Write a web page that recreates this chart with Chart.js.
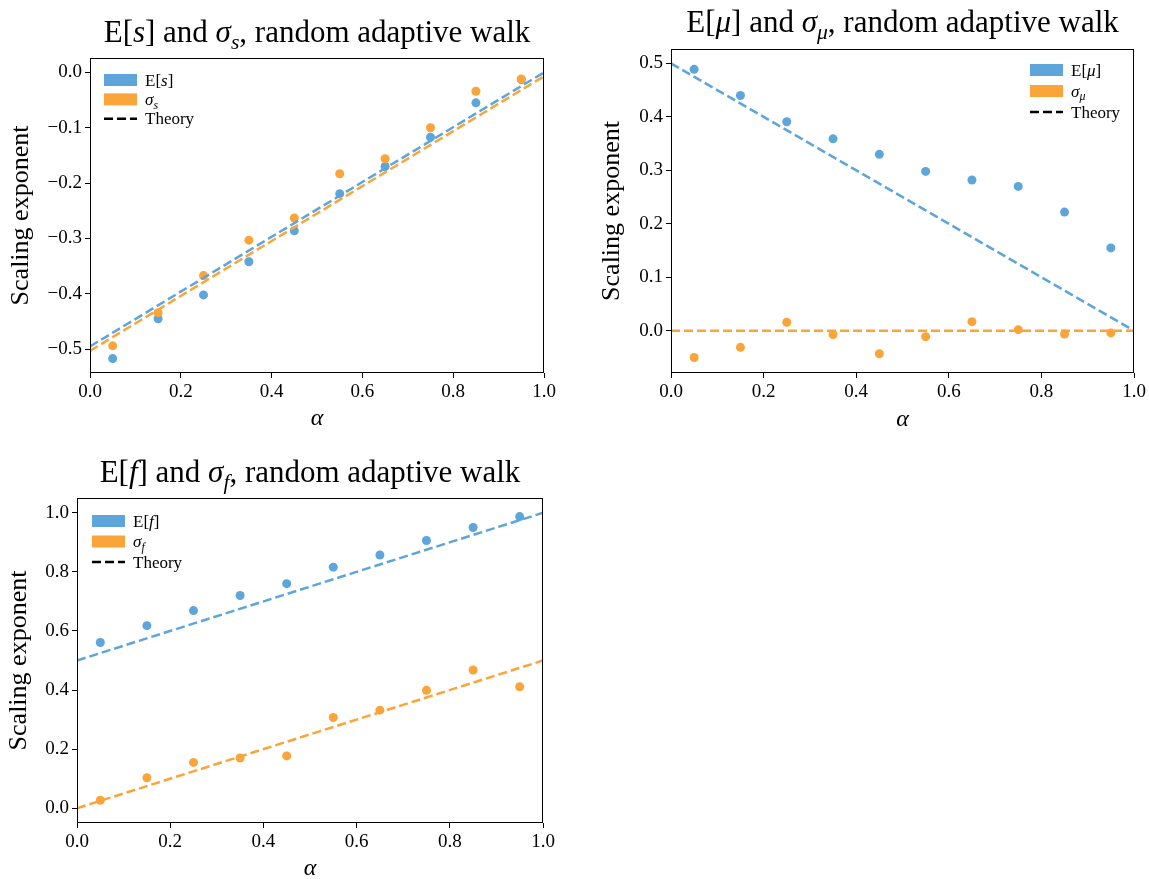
<!DOCTYPE html>
<html>
<head>
<meta charset="utf-8">
<script src="https://cdn.jsdelivr.net/npm/chart.js@4.4.1/dist/chart.umd.min.js"></script>
<style>
  body { margin: 0; background: #fff; }
  canvas { position: absolute; }
</style>
</head>
<body>
<canvas id="chartS" width="570" height="440" style="left:0px;top:0px"></canvas>
<canvas id="chartMu" width="559" height="440" style="left:590px;top:0px"></canvas>
<canvas id="chartF" width="570" height="439" style="left:0px;top:440px"></canvas>
<script>
// alpha values of the simulations, and the two ends of each theory line
const alpha = [0.05, 0.15, 0.25, 0.35, 0.45, 0.55, 0.65, 0.75, 0.85, 0.95];
const theoryAlpha = [0, 1];

// E[s] and sigma_s
const meanS = [-0.517, -0.445, -0.402, -0.342, -0.286, -0.219, -0.170, -0.117, -0.055, -0.013];
const sdS = [-0.494, -0.434, -0.367, -0.303, -0.263, -0.183, -0.156, -0.100, -0.034, -0.012];
const theoryMeanS = [-0.495, 0.0];
const theorySdS = [-0.503, -0.007];

// E[mu] and sigma_mu
const meanMu = [0.489, 0.440, 0.391, 0.359, 0.330, 0.298, 0.282, 0.270, 0.222, 0.155];
const sdMu = [-0.050, -0.031, 0.016, -0.007, -0.043, -0.011, 0.017, 0.002, -0.006, -0.004];
const theoryMeanMu = [0.5, 0.0];
const theorySdMu = [0.0, 0.0];

// E[f] and sigma_f
const meanF = [0.561, 0.618, 0.669, 0.720, 0.760, 0.816, 0.857, 0.906, 0.950, 0.987];
const sdF = [0.027, 0.103, 0.155, 0.170, 0.177, 0.307, 0.332, 0.399, 0.468, 0.411];
const theoryMeanF = [0.5, 1.0];
const theorySdF = [0.0, 0.5];

const xTicks = [0, 0.2, 0.4, 0.6, 0.8, 1.0];
const yTicksS = [-0.5, -0.4, -0.3, -0.2, -0.1, 0.0];
const yTicksMu = [0.0, 0.1, 0.2, 0.3, 0.4, 0.5];
const yTicksF = [0.0, 0.2, 0.4, 0.6, 0.8, 1.0];

const SERIF = "'Liberation Serif', 'DejaVu Serif', serif";
const BLUE = '#5DA5DA';
const ORANGE = '#FAA43A';

function fmt(v) {
  const s = Math.abs(v).toFixed(1);
  return v < -1e-9 ? '\u2212' + s : s;
}

function pts(xs, ys) {
  return xs.map((x, i) => ({x: x, y: ys[i]}));
}

// text with italic letters and subscripts
function drawRich(ctx, segs, x, y, size, align) {
  const fontOf = s => (s.it ? 'italic ' : '') + (s.sub ? size * 0.7 : size) + 'px ' + SERIF;
  let w = 0;
  segs.forEach(s => { ctx.font = fontOf(s); w += ctx.measureText(s.t).width; });
  let cx = align === 'center' ? x - w / 2 : x;
  ctx.textAlign = 'left';
  ctx.textBaseline = 'alphabetic';
  ctx.fillStyle = '#000';
  segs.forEach(s => {
    ctx.font = fontOf(s);
    ctx.fillText(s.t, cx, y + (s.sub ? size * 0.22 : 0));
    cx += ctx.measureText(s.t).width;
  });
}

// frame, title and legend inside the plot
function makeOverlay(cfg) {
  return {
    id: 'overlay',
    afterDraw(chart) {
      const ctx = chart.ctx;
      const a = chart.chartArea;
      ctx.save();
      ctx.strokeStyle = '#000';
      ctx.lineWidth = 1;
      ctx.setLineDash([]);
      const l = Math.round(a.left) + 0.5, t = Math.round(a.top) + 0.5;
      const r = Math.round(a.right) - 0.5, b = Math.round(a.bottom) - 0.5;
      ctx.strokeRect(l, t, r - l, b - t);

      drawRich(ctx, cfg.title, (a.left + a.right) / 2, a.top - cfg.titleGap, 31, 'center');

      const lg = cfg.legend;
      const px = lg.side === 'left' ? a.left + lg.dx : a.right - lg.dx;
      lg.items.forEach((it, i) => {
        const cy = a.top + lg.dy + i * lg.gap;
        if (it.dash) {
          ctx.strokeStyle = it.color;
          ctx.lineWidth = 2.5;
          ctx.setLineDash([9, 4]);
          ctx.beginPath();
          ctx.moveTo(px, cy);
          ctx.lineTo(px + 33, cy);
          ctx.stroke();
          ctx.setLineDash([]);
        } else {
          ctx.fillStyle = it.color;
          ctx.fillRect(px, cy - 6, 33, 12);
        }
        drawRich(ctx, it.segs, px + 41, cy + 5.5, 17, 'left');
      });
      ctx.restore();
    }
  };
}

function makeChart(id, cfg) {
  return new Chart(document.getElementById(id), {
    type: 'scatter',
    data: {
      datasets: [
        { data: pts(alpha, cfg.mean), showLine: false, pointRadius: 4.5, pointBorderWidth: 0,
          backgroundColor: BLUE, borderColor: BLUE, order: 4 },
        { data: pts(alpha, cfg.sd), showLine: false, pointRadius: 4.5, pointBorderWidth: 0,
          backgroundColor: ORANGE, borderColor: ORANGE, order: 3 },
        { data: pts(theoryAlpha, cfg.theoryMean), showLine: true, pointRadius: 0,
          borderColor: BLUE, borderWidth: 2.5, borderDash: [9, 4], order: 2 },
        { data: pts(theoryAlpha, cfg.theorySd), showLine: true, pointRadius: 0,
          borderColor: ORANGE, borderWidth: 2.5, borderDash: [9, 4], order: 1 }
      ]
    },
    plugins: [makeOverlay(cfg)],
    options: {
      responsive: false,
      animation: false,
      layout: { padding: cfg.padding },
      plugins: { legend: { display: false }, tooltip: { enabled: false } },
      scales: {
        x: {
          type: 'linear', min: 0, max: 1,
          afterBuildTicks: s => { s.ticks = xTicks.map(v => ({value: v})); },
          afterFit: s => { s.height = cfg.xHeight; },
          grid: { drawOnChartArea: false, drawTicks: true, tickLength: 5, color: '#000', lineWidth: 1 },
          border: { display: false },
          ticks: { color: '#000', font: { family: SERIF, size: 19 }, padding: 3,
                   maxRotation: 0, autoSkip: false, callback: v => fmt(v) },
          title: { display: true, text: 'α', color: '#000',
                   font: { family: SERIF, size: 24, style: 'italic' },
                   padding: { top: 0, bottom: cfg.xTitlePad } }
        },
        y: {
          type: 'linear', min: cfg.yMin, max: cfg.yMax,
          afterBuildTicks: s => { s.ticks = cfg.yTicks.map(v => ({value: v})); },
          afterFit: s => { s.width = cfg.yWidth; },
          grid: { drawOnChartArea: false, drawTicks: true, tickLength: 5, color: '#000', lineWidth: 1 },
          border: { display: false },
          ticks: { color: '#000', font: { family: SERIF, size: 19 }, padding: 3,
                   autoSkip: false, callback: v => fmt(v) },
          title: { display: true, text: 'Scaling exponent', color: '#000',
                   font: { family: SERIF, size: 26 },
                   padding: { top: cfg.yTitlePad, bottom: 0 } }
        }
      }
    }
  });
}

makeChart('chartS', {
  mean: meanS, sd: sdS, theoryMean: theoryMeanS, theorySd: theorySdS,
  yMin: -0.543, yMax: 0.026, yTicks: yTicksS,
  padding: { top: 58, left: 0, right: 26, bottom: 0 },
  yWidth: 90, xHeight: 67, xTitlePad: 7, yTitlePad: 6,
  titleGap: 16,
  title: [{t: 'E['}, {t: 's', it: 1}, {t: '] and '}, {t: 'σ', it: 1}, {t: 's', it: 1, sub: 1},
          {t: ', random adaptive walk'}],
  legend: { side: 'left', dx: 14, dy: 22, gap: 19.4, items: [
    { color: BLUE, segs: [{t: 'E['}, {t: 's', it: 1}, {t: ']'}] },
    { color: ORANGE, segs: [{t: 'σ', it: 1}, {t: 's', it: 1, sub: 1}] },
    { color: '#000', dash: true, segs: [{t: 'Theory'}] }
  ] }
});

makeChart('chartMu', {
  mean: meanMu, sd: sdMu, theoryMean: theoryMeanMu, theorySd: theorySdMu,
  yMin: -0.079, yMax: 0.527, yTicks: yTicksMu,
  padding: { top: 49, left: 0, right: 15, bottom: 0 },
  yWidth: 81, xHeight: 67, xTitlePad: 6, yTitlePad: 7,
  titleGap: 17,
  title: [{t: 'E['}, {t: 'μ', it: 1}, {t: '] and '}, {t: 'σ', it: 1}, {t: 'μ', it: 1, sub: 1},
          {t: ', random adaptive walk'}],
  legend: { side: 'right', dx: 104, dy: 21, gap: 21, items: [
    { color: BLUE, segs: [{t: 'E['}, {t: 'μ', it: 1}, {t: ']'}] },
    { color: ORANGE, segs: [{t: 'σ', it: 1}, {t: 'μ', it: 1, sub: 1}] },
    { color: '#000', dash: true, segs: [{t: 'Theory'}] }
  ] }
});

makeChart('chartF', {
  mean: meanF, sd: sdF, theoryMean: theoryMeanF, theorySd: theorySdF,
  yMin: -0.05, yMax: 1.05, yTicks: yTicksF,
  padding: { top: 58, left: 0, right: 27, bottom: 0 },
  yWidth: 77, xHeight: 56, xTitlePad: -4, yTitlePad: 4,
  titleGap: 16,
  title: [{t: 'E['}, {t: 'f', it: 1}, {t: '] and '}, {t: 'σ', it: 1}, {t: 'f', it: 1, sub: 1},
          {t: ', random adaptive walk'}],
  legend: { side: 'left', dx: 15, dy: 23, gap: 20.5, items: [
    { color: BLUE, segs: [{t: 'E['}, {t: 'f', it: 1}, {t: ']'}] },
    { color: ORANGE, segs: [{t: 'σ', it: 1}, {t: 'f', it: 1, sub: 1}] },
    { color: '#000', dash: true, segs: [{t: 'Theory'}] }
  ] }
});
</script>
</body>
</html>
